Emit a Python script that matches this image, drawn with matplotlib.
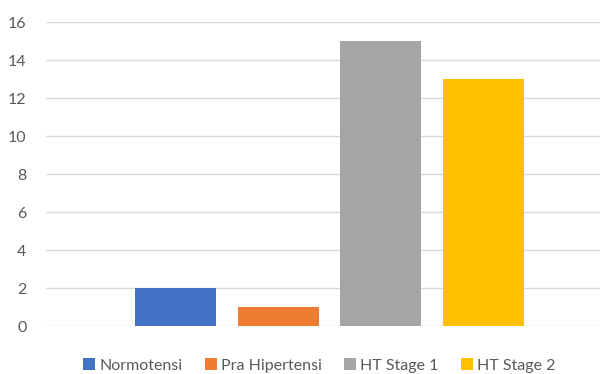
import numpy as np
import matplotlib.pyplot as plt

plt.rcParams['font.family'] = ['Lato', 'DejaVu Sans']

series = ['Normotensi', 'Pra Hipertensi', 'HT Stage 1', 'HT Stage 2']
values = [2, 1, 15, 13]
colors = ['#4472C4', '#ED7D31', '#A5A5A5', '#FFC000']
yticks = [0, 2, 4, 6, 8, 10, 12, 14, 16]

fig = plt.figure(figsize=(6, 3.74), dpi=100)
ax = fig.add_axes([46/600, 48/374, 554/600, 304/374])

x = np.arange(len(series))
for i in range(len(series)):
    ax.bar(x[i], values[i], width=0.79, color=colors[i], label=series[i], zorder=3)

ax.set_xlim(-1.263, 4.14)
ax.set_ylim(0, 16)
ax.set_yticks(yticks)
ax.set_xticks([])
ax.grid(axis='y', color='#D9D9D9', linewidth=1, zorder=0)
for s in ax.spines.values():
    s.set_visible(False)
ax.tick_params(axis='y', length=0, labelsize=11.5, labelcolor='#595959', pad=14)

fig.legend(loc='lower center', ncol=4, frameon=False, fontsize=11.5,
           handlelength=0.75, handleheight=0.75, handletextpad=0.25,
           columnspacing=1.4, labelcolor='#595959',
           bbox_to_anchor=(0.532, -0.035))

fig.savefig('out.png', dpi=100)
